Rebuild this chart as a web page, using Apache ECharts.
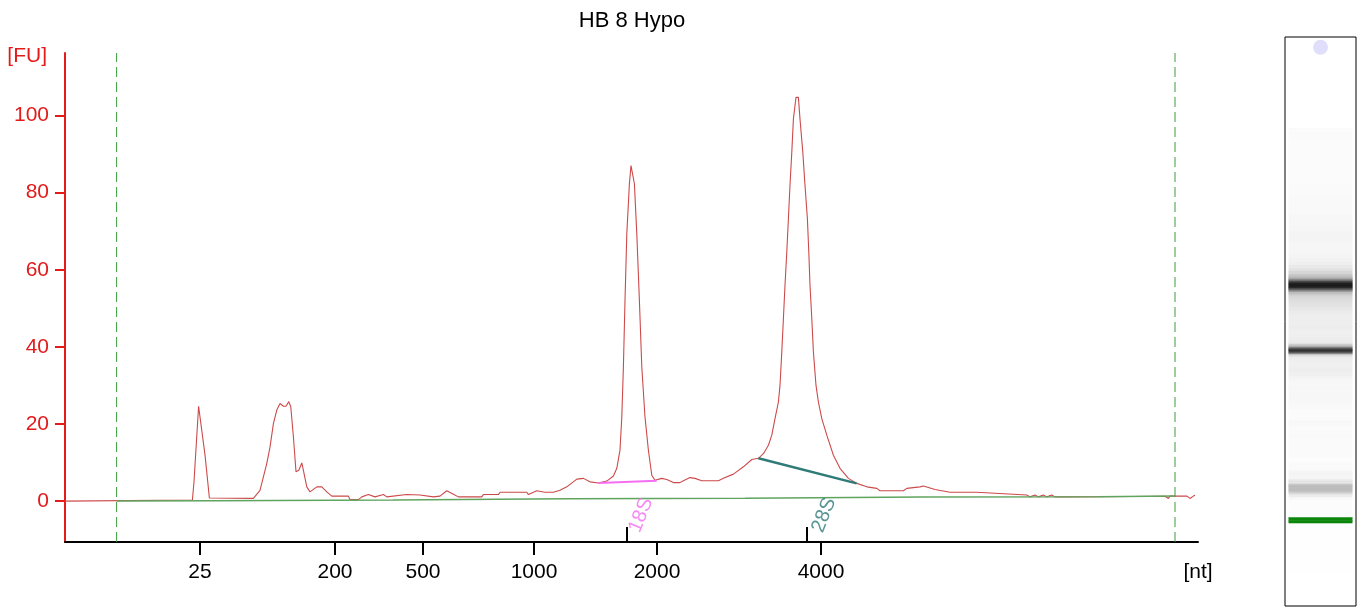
<!DOCTYPE html>
<html>
<head>
<meta charset="utf-8">
<script src="https://cdn.jsdelivr.net/npm/echarts@6/dist/echarts.min.js"></script>
<style>
html,body{margin:0;padding:0;background:#fff;}
#chart{width:1361px;height:609px;}
</style>
</head>
<body>
<div id="chart"></div>
<script>
// ---- data (migration time in s, fluorescence in FU) ----
const chartTitle = 'HB 8 Hypo';
const trace = [
 [17.0,0],[23.37,0.3],[23.45,5],[23.68,24.6],[23.77,24.6],[24.0,12],[24.22,0.8],[26.42,0.7],
 [26.75,2.8],[27.09,9.8],[27.25,14],[27.42,20.1],[27.59,23.6],[27.75,25.3],[27.92,24.6],[28.05,24.6],
 [28.19,25.8],[28.29,24.4],[28.42,16.7],[28.55,7.6],[28.69,8],[28.84,9.9],[28.92,8],[29.09,3.7],
 [29.25,2.4],[29.59,3.7],[29.84,3.7],[30.09,2.4],[30.34,1.3],[31.17,1.3],[31.25,0.4],[31.67,0.4],
 [31.84,1.1],[32.17,1.7],[32.5,1.1],[32.92,1.7],[33.09,1.1],[34.09,1.7],[34.75,1.6],[35.42,1.1],
 [35.75,1.3],[36.09,2.7],[36.42,1.8],[36.67,1.1],[37.84,1.1],[37.92,1.7],[38.67,1.7],[38.75,2.3],
 [40.09,2.3],[40.17,1.7],[40.59,2.7],[41.0,2.3],[41.42,2.3],[41.75,2.8],[42.09,3.7],[42.59,5.7],
 [42.92,5.9],[43.25,5.0],[43.67,4.7],[44.09,5.2],[44.42,6.5],[44.59,8.5],[44.75,13.2],[44.84,21.8],
 [44.92,34.8],[45.0,52],[45.09,69.3],[45.22,82.3],[45.3,87],[45.39,87],[45.47,82.3],[45.59,69.3],
 [45.72,52],[45.84,34.8],[46.0,21.8],[46.17,13.2],[46.34,6.7],[46.5,5.4],[46.84,5.9],[47.09,5.6],
 [47.42,4.8],[47.75,4.8],[47.92,5.3],[48.25,6.1],[48.5,5.9],[48.84,5.3],[49.67,5.3],[49.92,5.9],
 [50.42,7.0],[50.92,8.9],[51.34,10.8],[51.67,11.1],[51.92,12.3],[52.17,14.5],[52.34,17.1],[52.5,21.4],
 [52.67,25.7],[52.75,30],[52.84,38.7],[52.92,47.3],[53.0,56],[53.09,64.6],[53.17,73.2],[53.25,81.9],
 [53.34,90.5],[53.42,99.1],[53.55,104.7],[53.67,104.7],[53.75,99.1],[53.89,90.5],[54.0,81.9],[54.12,73.2],
 [54.19,64.6],[54.25,56],[54.34,47.3],[54.42,38.7],[54.55,30],[54.67,25.7],[54.84,21.4],[55.09,17.1],
 [55.42,11.9],[55.75,8.5],[56.17,5.9],[56.59,4.6],[57.09,3.7],[57.59,3.3],[57.75,2.7],[58.92,2.7],
 [59.09,3.3],[59.75,3.7],[59.92,3.9],[60.5,3.0],[61.25,2.3],[62.59,2.3],[62.67,1.8],[65.09,1.6],
 [65.25,1.1],[65.5,1.6],[65.67,1.1],[65.92,1.6],[66.09,1.1],[66.34,1.6],[66.5,1.1],[68.65,1.15],
 [72.0,1.25],[72.17,0.7],[72.25,1.3],[72.5,1.3],[73.1,1.3],[73.25,0.7],[73.42,1.3],[73.5,1.5]
];
const baseline = [[19.58,0],[24.5,0.1],[33.4,0.3],[42.15,0.6],[51.0,0.75],[59.8,1.1],[68.65,1.15],[72.5,1.3]];
const peak18SBaseline = [[43.67,4.7],[46.58,5.3]];
const peak28SBaseline = [[51.67,11.1],[56.58,4.6]];
const peakNames = ['18S','28S'];
const peakTimes = [45.1, 54.1];
const markerTimes = [19.58, 72.5];           // dashed alignment markers
const xTickTimes = [23.75, 30.5, 34.9, 40.45, 46.6, 54.8];
const xTickLabels = ['25','200','500','1000','2000','4000'];
const xUnitLabel = '[nt]';
const yTicks = [0,20,40,60,80,100];
const lowerMarkerWindow = [23.2, 24.4];
const gelWellTime = 83.7;

// ---- layout / style ----
const X_MIN = 17.0, X_MAX = 73.65, Y_MIN = -10.6, Y_MAX = 116.2;
const FONT = 'Liberation Sans';
const RED = '#e31b1b';
const DASH_GREEN = '#3c9a3c';
const peakColors = ['#f56ef2', '#2f7b78'];
const peakLabelOffsets = [[6.5, 12.4], [7.7, 15.2]];

const gelSegments = [];
for (let i = 0; i < trace.length - 1; i++) {
  gelSegments.push([trace[i][0], trace[i+1][0], (trace[i][1] + trace[i+1][1]) / 2]);
}
function gelColor(t0, t1, fu) {
  const tm = (t0 + t1) / 2;
  if (tm >= lowerMarkerWindow[0] && tm <= lowerMarkerWindow[1] && fu > 5) return '#0b860b';
  const f = Math.min(1, Math.max(0, fu) / 110);
  const g = Math.round(255 * (1 - Math.pow(f, 0.9)));
  return 'rgb(' + g + ',' + g + ',' + g + ')';
}

function xLabel(v) {
  if (Math.abs(v - X_MAX) < 1e-6) return xUnitLabel;
  for (let i = 0; i < xTickTimes.length; i++) if (Math.abs(v - xTickTimes[i]) < 1e-6) return xTickLabels[i];
  return '';
}

const markerSeries = markerTimes.map((t, i) => ({
  type: 'line', name: 'marker ' + i, xAxisIndex: 0, yAxisIndex: 0,
  data: [[t, Y_MIN], [t, Y_MAX]], showSymbol: false, symbol: 'none', z: 1,
  color: DASH_GREEN,
  lineStyle: {color: DASH_GREEN, width: 1, type: [10, 5]}
}));

const chart = echarts.init(document.getElementById('chart'), null, {renderer: 'canvas'});
chart.setOption({
  animation: false,
  backgroundColor: '#fff',
  title: {
    text: chartTitle, left: 627, top: 5, textAlign: 'center',
    textStyle: {fontFamily: FONT, fontSize: 22, fontWeight: 'normal', color: '#000'}
  },
  grid: [
    {left: 65, top: 53, width: 1133, height: 489, containLabel: false},
    {left: 1285, top: 37, width: 71, height: 569, show: true, borderColor: '#000', borderWidth: 1, backgroundColor: '#fff'}
  ],
  xAxis: [
    {
      type: 'value', gridIndex: 0, min: X_MIN, max: X_MAX, position: 'bottom',
      axisLine: {show: true, onZero: false, lineStyle: {color: '#000', width: 2}},
      axisTick: {show: true, length: 13, customValues: xTickTimes, lineStyle: {color: '#000', width: 2}},
      axisLabel: {show: true, customValues: xTickTimes.concat([X_MAX]), formatter: xLabel, margin: 20,
        color: '#000', fontFamily: FONT, fontSize: 21, showMinLabel: true, showMaxLabel: true},
      splitLine: {show: false}
    },
    {
      type: 'value', gridIndex: 0, min: X_MIN, max: X_MAX, position: 'bottom', offset: 0,
      axisLine: {show: false, onZero: false},
      axisTick: {show: true, inside: true, length: 15, customValues: peakTimes, lineStyle: {color: '#000', width: 2}},
      axisLabel: {show: false},
      splitLine: {show: false}
    },
    {type: 'value', gridIndex: 1, min: 0, max: 1, show: false}
  ],
  yAxis: [
    {
      type: 'value', gridIndex: 0, min: Y_MIN, max: Y_MAX,
      name: '[FU]', nameLocation: 'end', nameGap: -3,
      nameTextStyle: {color: RED, fontFamily: FONT, fontSize: 21, align: 'right', verticalAlign: 'middle', padding: [0, 18, 0, 0]},
      axisLine: {show: true, onZero: false, lineStyle: {color: RED, width: 2}},
      axisTick: {show: true, length: 10, customValues: yTicks, lineStyle: {color: RED, width: 2}},
      axisLabel: {show: true, customValues: yTicks, margin: 16, color: RED, fontFamily: FONT, fontSize: 21},
      splitLine: {show: false}
    },
    {type: 'value', gridIndex: 1, min: 12.9, max: 85, show: false}
  ],
  series: markerSeries.concat([
    {
      type: 'line', name: 'trace', xAxisIndex: 0, yAxisIndex: 0, data: trace,
      showSymbol: false, symbol: 'none', z: 2,
      lineStyle: {color: '#cc4a4a', width: 1.1}
    },
    {
      type: 'line', name: 'baseline', xAxisIndex: 0, yAxisIndex: 0, data: baseline,
      showSymbol: false, symbol: 'none', z: 3,
      lineStyle: {color: '#5fa55f', width: 1.5}
    },
    {
      type: 'line', name: '18S baseline', xAxisIndex: 0, yAxisIndex: 0, data: peak18SBaseline,
      showSymbol: false, symbol: 'none', z: 4, lineStyle: {color: peakColors[0], width: 2}
    },
    {
      type: 'line', name: '28S baseline', xAxisIndex: 0, yAxisIndex: 0, data: peak28SBaseline,
      showSymbol: false, symbol: 'none', z: 4, lineStyle: {color: peakColors[1], width: 2.5}
    },
    {
      type: 'scatter', name: 'peak labels', xAxisIndex: 0, yAxisIndex: 0, symbolSize: 0, z: 5,
      data: peakNames.map((n, i) => ({
        value: [peakTimes[i], -4], name: n,
        label: {show: true, formatter: n, position: 'inside', offset: peakLabelOffsets[i], rotate: 68,
          color: peakColors[i], fontFamily: FONT, fontSize: 20}
      }))
    },
    {
      type: 'custom', name: 'gel', xAxisIndex: 2, yAxisIndex: 1, data: gelSegments, z: 2,
      renderItem: function (params, api) {
        const t0 = api.value(0), t1 = api.value(1), fu = api.value(2);
        const pTop = api.coord([0.05, t1]);
        const pBot = api.coord([0.95, t0]);
        return {
          type: 'rect',
          shape: {x: pTop[0], y: pTop[1], width: pBot[0] - pTop[0], height: pBot[1] - pTop[1] + 0.6},
          style: {fill: gelColor(t0, t1, fu)}
        };
      }
    },
    {
      type: 'scatter', name: 'well', xAxisIndex: 2, yAxisIndex: 1, symbolSize: 15, z: 3,
      itemStyle: {color: '#d7d7fb'}, data: [[0.5, gelWellTime]]
    }
  ])
});
</script>
</body>
</html>
